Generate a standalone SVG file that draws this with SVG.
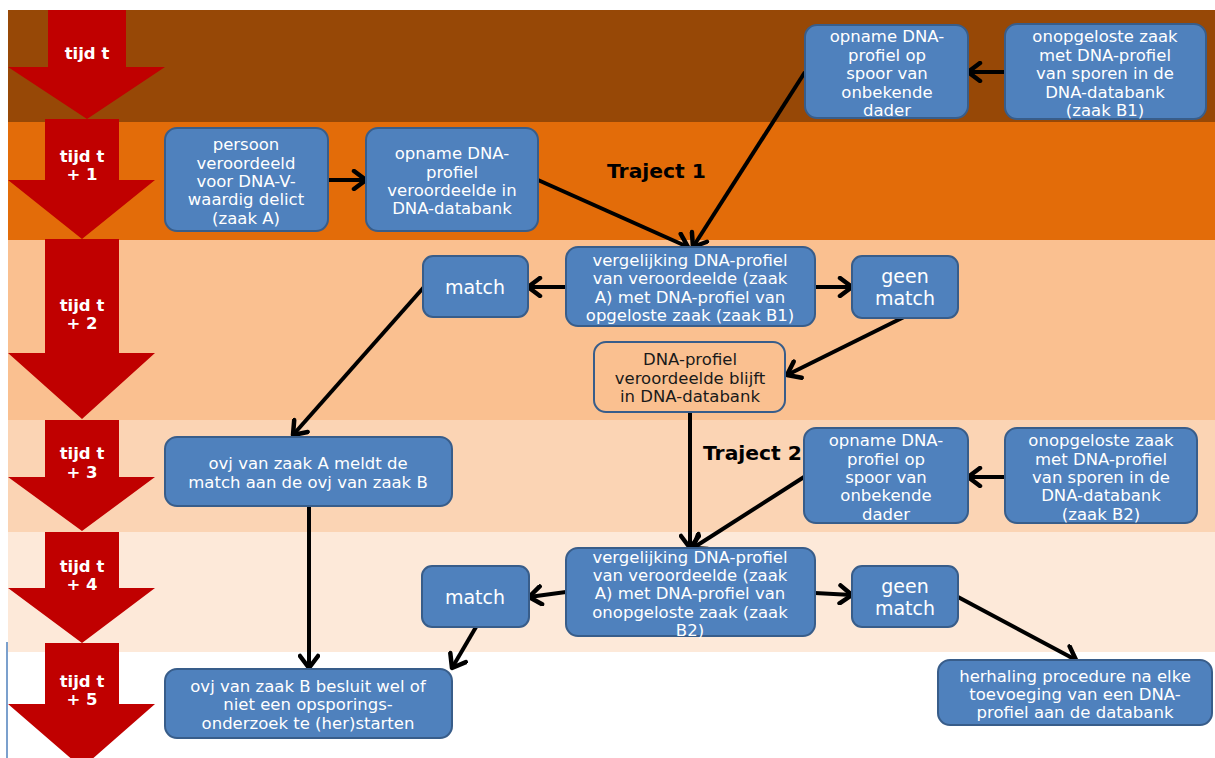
<svg xmlns="http://www.w3.org/2000/svg" width="1215" height="758" viewBox="0 0 1215 758">
<defs>
<style>
.box{fill:#4F81BD;stroke:#385D8A;stroke-width:2}
.box2{fill:#FAC090;stroke:#385D8A;stroke-width:2}
.t{font-family:"DejaVu Sans","Liberation Sans",sans-serif;font-size:16.5px;fill:#fff;text-anchor:middle}
.tl{font-family:"DejaVu Sans","Liberation Sans",sans-serif;font-size:19px;fill:#fff;text-anchor:middle}
.td{font-family:"DejaVu Sans","Liberation Sans",sans-serif;font-size:16.5px;fill:#1a1a1a;text-anchor:middle}
.time{font-family:"DejaVu Sans","Liberation Sans",sans-serif;font-size:16.5px;font-weight:bold;fill:#fff;text-anchor:middle}
.traj{font-family:"DejaVu Sans","Liberation Sans",sans-serif;font-size:19px;font-weight:bold;fill:#000}
.red{fill:#C00000}
.c{stroke:#000;stroke-width:4;fill:none;marker-end:url(#ah)}
</style>
<marker id="ah" markerUnits="userSpaceOnUse" markerWidth="18" markerHeight="22" viewBox="0 0 18 22" refX="15" refY="11" orient="auto">
<path d="M3,2 L15,11 L3,20" fill="none" stroke="#000" stroke-width="4.5" stroke-linecap="round" stroke-linejoin="round"/>
</marker>
</defs>
<rect width="1215" height="758" fill="#fff"/>
<g id="bands">
<rect x="8" y="10" width="1207" height="112" fill="#974806"/>
<rect x="8" y="122" width="1207" height="118" fill="#E36C09"/>
<rect x="8" y="240" width="1207" height="180" fill="#FAC090"/>
<rect x="8" y="420" width="1207" height="112" fill="#FBD4B4"/>
<rect x="8" y="532" width="1207" height="120" fill="#FDE9D9"/>
<line x1="7" y1="642" x2="7" y2="758" stroke="#4F81BD" stroke-width="1.5"/>
</g>
<g id="timeline">
<polygon class="red" points="48,10 126,10 126,67 165,67 87,119 8,67 48,67"/>
<polygon class="red" points="45,119 119,119 119,180 155,180 82,239 8,180 45,180"/>
<polygon class="red" points="45,239 119,239 119,353 155,353 82,419 8,353 45,353"/>
<polygon class="red" points="45,420 119,420 119,477 155,477 82,531 8,477 45,477"/>
<polygon class="red" points="45,532 119,532 119,588 155,588 82,643 8,588 45,588"/>
<polygon class="red" points="45,643 119,643 119,704 155,704 82,768 8,704 45,704"/>
<text class="time" x="87" y="59">tijd t</text>
<text class="time" x="82" y="162">tijd t</text><text class="time" x="82" y="180">+ 1</text>
<text class="time" x="82" y="311">tijd t</text><text class="time" x="82" y="329">+ 2</text>
<text class="time" x="82" y="459">tijd t</text><text class="time" x="82" y="478">+ 3</text>
<text class="time" x="82" y="572">tijd t</text><text class="time" x="82" y="590">+ 4</text>
<text class="time" x="82" y="687">tijd t</text><text class="time" x="82" y="705">+ 5</text>
</g>
<g id="labels">
<text class="traj" x="607" y="178" textLength="99" lengthAdjust="spacingAndGlyphs">Traject 1</text>
<text class="traj" x="703" y="460" textLength="99" lengthAdjust="spacingAndGlyphs">Traject 2</text>
</g>
<g id="connectors">
<line class="c" x1="328" y1="180" x2="366" y2="180"/>
<line class="c" x1="538" y1="180" x2="688" y2="247"/>
<line class="c" x1="805" y1="72" x2="693" y2="247"/>
<line class="c" x1="1005" y1="72" x2="968" y2="72"/>
<line class="c" x1="566" y1="287" x2="528" y2="287"/>
<line class="c" x1="815" y1="287" x2="852" y2="287"/>
<line class="c" x1="904" y1="317" x2="787" y2="375"/>
<line class="c" x1="424" y1="287" x2="293" y2="435"/>
<line class="c" x1="690" y1="412" x2="690" y2="548"/>
<line class="c" x1="1005" y1="477" x2="968" y2="477"/>
<line class="c" x1="804" y1="477" x2="693" y2="548"/>
<line class="c" x1="309" y1="506" x2="309" y2="668"/>
<line class="c" x1="566" y1="592" x2="529" y2="597"/>
<line class="c" x1="815" y1="593" x2="852" y2="595"/>
<line class="c" x1="476" y1="627" x2="452" y2="668"/>
<line class="c" x1="958" y1="597" x2="1076" y2="660"/>
</g>
<g id="n-persoon">
<rect class="box" x="165" y="128" width="163" height="103" rx="12"/>
<text class="t" x="246" y="150">persoon</text>
<text class="t" x="246" y="169">veroordeeld</text>
<text class="t" x="246" y="187">voor DNA-V-</text>
<text class="t" x="246" y="205">waardig delict</text>
<text class="t" x="246" y="224">(zaak A)</text>
</g>
<g id="n-opname-veroordeelde">
<rect class="box" x="366" y="128" width="172" height="103" rx="12"/>
<text class="t" x="452" y="159">opname DNA-</text>
<text class="t" x="452" y="178">profiel</text>
<text class="t" x="452" y="196">veroordeelde in</text>
<text class="t" x="452" y="214">DNA-databank</text>
</g>
<g id="n-opname-spoor1">
<rect class="box" x="805" y="25" width="163" height="93" rx="12"/>
<text class="t" x="887" y="42">opname DNA-</text>
<text class="t" x="887" y="61">profiel op</text>
<text class="t" x="887" y="79">spoor van</text>
<text class="t" x="887" y="98">onbekende</text>
<text class="t" x="887" y="116">dader</text>
</g>
<g id="n-zaak-b1">
<rect class="box" x="1005" y="24" width="201" height="95" rx="12"/>
<text class="t" x="1105" y="42">onopgeloste zaak</text>
<text class="t" x="1105" y="61">met DNA-profiel</text>
<text class="t" x="1105" y="79">van sporen in de</text>
<text class="t" x="1105" y="98">DNA-databank</text>
<text class="t" x="1105" y="116">(zaak B1)</text>
</g>
<g id="n-vergelijking1">
<rect class="box" x="566" y="247" width="249" height="79" rx="12"/>
<text class="t" x="690" y="266">vergelijking DNA-profiel</text>
<text class="t" x="690" y="284">van veroordeelde (zaak</text>
<text class="t" x="690" y="303">A) met DNA-profiel van</text>
<text class="t" x="690" y="321">opgeloste zaak (zaak B1)</text>
</g>
<g id="n-match1">
<rect class="box" x="423" y="256" width="105" height="61" rx="10"/>
<text class="tl" x="475" y="294">match</text>
</g>
<g id="n-geen1">
<rect class="box" x="852" y="256" width="106" height="62" rx="10"/>
<text class="tl" x="905" y="283">geen</text>
<text class="tl" x="905" y="305">match</text>
</g>
<g id="n-blijft">
<rect class="box2" x="594" y="342" width="191" height="70" rx="12"/>
<text class="td" x="690" y="365">DNA-profiel</text>
<text class="td" x="690" y="384">veroordeelde blijft</text>
<text class="td" x="690" y="402">in DNA-databank</text>
</g>
<g id="n-meldt">
<rect class="box" x="165" y="437" width="287" height="69" rx="12"/>
<text class="t" x="308" y="469">ovj van zaak A meldt de</text>
<text class="t" x="308" y="488">match aan de ovj van zaak B</text>
</g>
<g id="n-opname-spoor2">
<rect class="box" x="804" y="428" width="164" height="95" rx="12"/>
<text class="t" x="886" y="446">opname DNA-</text>
<text class="t" x="886" y="465">profiel op</text>
<text class="t" x="886" y="483">spoor van</text>
<text class="t" x="886" y="501">onbekende</text>
<text class="t" x="886" y="520">dader</text>
</g>
<g id="n-zaak-b2">
<rect class="box" x="1005" y="428" width="192" height="95" rx="12"/>
<text class="t" x="1101" y="446">onopgeloste zaak</text>
<text class="t" x="1101" y="465">met DNA-profiel</text>
<text class="t" x="1101" y="483">van sporen in de</text>
<text class="t" x="1101" y="501">DNA-databank</text>
<text class="t" x="1101" y="520">(zaak B2)</text>
</g>
<g id="n-vergelijking2">
<rect class="box" x="566" y="548" width="249" height="88" rx="12"/>
<text class="t" x="690" y="563">vergelijking DNA-profiel</text>
<text class="t" x="690" y="581">van veroordeelde (zaak</text>
<text class="t" x="690" y="599">A) met DNA-profiel van</text>
<text class="t" x="690" y="618">onopgeloste zaak (zaak</text>
<text class="t" x="690" y="636">B2)</text>
</g>
<g id="n-match2">
<rect class="box" x="422" y="566" width="107" height="61" rx="10"/>
<text class="tl" x="475" y="604">match</text>
</g>
<g id="n-geen2">
<rect class="box" x="852" y="566" width="106" height="61" rx="10"/>
<text class="tl" x="905" y="593">geen</text>
<text class="tl" x="905" y="615">match</text>
</g>
<g id="n-besluit">
<rect class="box" x="165" y="669" width="287" height="69" rx="12"/>
<text class="t" x="308" y="692">ovj van zaak B besluit wel of</text>
<text class="t" x="308" y="710">niet een opsporings-</text>
<text class="t" x="308" y="729">onderzoek te (her)starten</text>
</g>
<g id="n-herhaling">
<rect class="box" x="938" y="660" width="274" height="65" rx="12"/>
<text class="t" x="1075" y="682">herhaling procedure na elke</text>
<text class="t" x="1075" y="700">toevoeging van een DNA-</text>
<text class="t" x="1075" y="718">profiel aan de databank</text>
</g>
</svg>
